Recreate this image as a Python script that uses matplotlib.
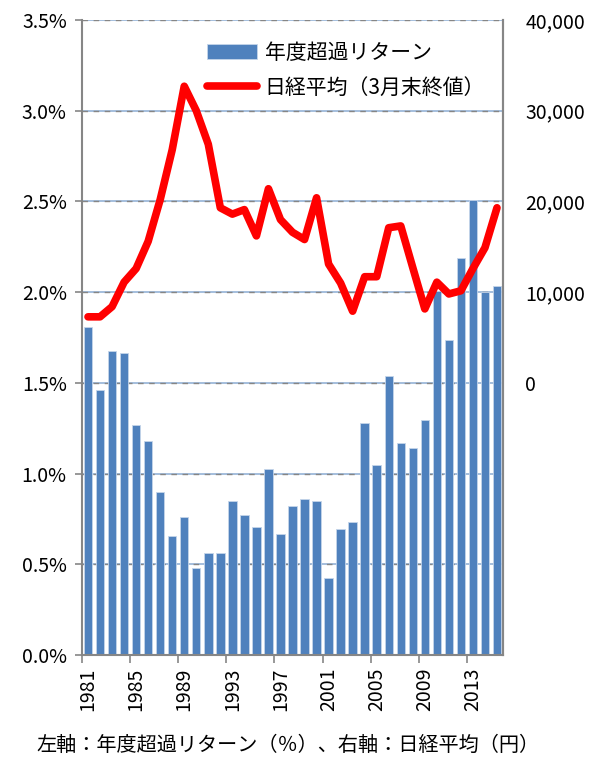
import numpy as np
import matplotlib
matplotlib.use("Agg")
import matplotlib.pyplot as plt
from matplotlib.ticker import FuncFormatter

plt.rcParams['font.family'] = ['Noto Sans CJK JP', 'DejaVu Sans']

# ---- data ----
years = list(range(1981, 2016))
excess_return = [1.81, 1.46, 1.675, 1.665, 1.27, 1.18, 0.90, 0.655, 0.76, 0.48,
                 0.56, 0.56, 0.85, 0.77, 0.705, 1.025, 0.665, 0.82, 0.86, 0.85,
                 0.425, 0.695, 0.735, 1.28, 1.045, 1.54, 1.17, 1.14, 1.295, 2.005,
                 1.735, 2.19, 2.51, 2.0, 2.035]
nikkei = [7280, 7280, 8400, 11100, 12600, 15600, 20200, 25700, 32700, 30000,
          26300, 19300, 18600, 19100, 16200, 21400, 18000, 16600, 15800, 20400,
          13100, 11000, 7900, 11700, 11700, 17100, 17300, 12700, 8150, 11100,
          9800, 10150, 12600, 14900, 19300]
legend_labels = ["年度超過リターン", "日経平均（3月末終値）"]
caption = "左軸：年度超過リターン（％）、右軸：日経平均（円）"

BAR = "#4F81BD"
GRAY = "#868686"

fig = plt.figure(figsize=(5.96, 7.58), dpi=100)
ax = fig.add_axes([82/596, 1 - 655/758, 421/596, 635/758])
x = np.arange(len(years))

# gridlines: light blue under grey dashes
for g in np.arange(0.5, 3.51, 0.5):
    ax.axhline(g, color="#95B3D7", lw=1.2, zorder=0)
    ax.axhline(g, color=GRAY, lw=1.0, ls=(0, (4, 4)), zorder=0.5)

ax.bar(x, excess_return, width=0.7, color=BAR, edgecolor="#C5D5EA",
       linewidth=0.6, zorder=2, label=legend_labels[0])
ax.set_xlim(-0.5, len(years) - 0.5)
ax.set_ylim(0, 3.5)
ax.set_yticks(np.arange(0, 3.51, 0.5))
ax.yaxis.set_major_formatter(FuncFormatter(lambda v, p: f"{v:.1f}%"))

lbl_idx = list(range(0, len(years), 4))
ax.set_xticks(lbl_idx)
ax.set_xticklabels([str(years[i]) for i in lbl_idx], rotation=90, fontsize=14)
ax.set_xticks([i - 0.5 for i in lbl_idx], minor=True)
ax.tick_params(axis='x', which='major', length=0, pad=9)
ax.tick_params(axis='x', which='minor', length=6, color=GRAY, width=1.2)
ax.tick_params(axis='y', length=5, color=GRAY, width=1.2, labelsize=14, pad=6)

ax.spines["top"].set_visible(False)
for s in ["left", "bottom", "right"]:
    ax.spines[s].set_color(GRAY)
    ax.spines[s].set_linewidth(1.5)

ax2 = ax.twinx()
ax2.plot(x, nikkei, color="#FF0000", lw=5.5, solid_capstyle='round',
         solid_joinstyle='round', zorder=3, label=legend_labels[1])
ax2.set_ylim(-30000, 40000)
ax2.set_yticks(np.arange(0, 40001, 10000))
ax2.yaxis.set_major_formatter(FuncFormatter(lambda v, p: f"{int(v):,}"))
ax2.tick_params(axis='y', length=0, labelsize=14, pad=16)
ax2.spines["top"].set_visible(False)
ax2.spines["right"].set_color(GRAY)
ax2.spines["right"].set_linewidth(1.5)
ax2.spines["left"].set_visible(False)
ax2.spines["bottom"].set_visible(False)

h1, l1 = ax.get_legend_handles_labels()
h2, l2 = ax2.get_legend_handles_labels()
ax2.legend(h1 + h2, l1 + l2, loc="upper left", bbox_to_anchor=(0.253, 0.995),
           frameon=False, fontsize=15, handlelength=2.4,
           labelspacing=0.6, handletextpad=0.35)

fig.text(288/596, 1 - 745/758, caption, ha="center", va="center", fontsize=14.5)

fig.savefig("out.png", dpi=100)
